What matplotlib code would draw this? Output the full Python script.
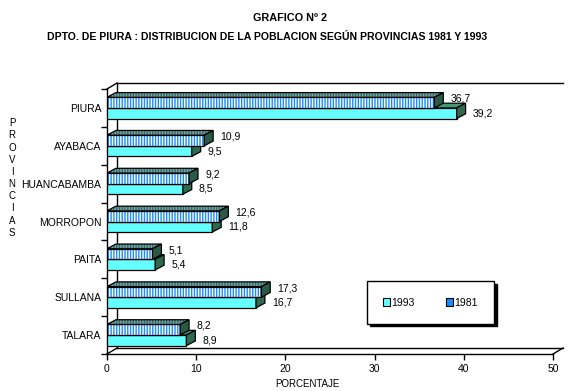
import numpy as np
import matplotlib
matplotlib.use('Agg')
import matplotlib.pyplot as plt
from matplotlib.patches import Polygon, Patch

provinces = ['PIURA', 'AYABACA', 'HUANCABAMBA', 'MORROPON', 'PAITA', 'SULLANA', 'TALARA']
p1981 = [36.7, 10.9, 9.2, 12.6, 5.1, 17.3, 8.2]
p1993 = [39.2, 9.5, 8.5, 11.8, 5.4, 16.7, 8.9]
xticks = [0, 10, 20, 30, 40, 50]

CYAN = '#66FFFF'
CYAN_SIDE = '#2E6B4E'
BLUE = '#1A8CFF'
BLUE_TOP = '#2F6B6B'
BLUE_SIDE = '#285A45'

plt.rcParams['font.family'] = ['Liberation Sans', 'DejaVu Sans']
plt.rcParams['hatch.linewidth'] = 1.0

fig = plt.figure(figsize=(5.86, 3.91), dpi=100)
W, H = 586, 391
ax = fig.add_axes([107 / W, 37 / H, 446 / W, 265 / H])
ax.set_xlim(0, 50)
ax.set_ylim(-0.5, 6.5)

# depth of the 3d effect, in data units
DXW, DYW = 1.12, 0.158
DX, DY = 1.0, 0.125
BH = 0.28

y = np.arange(len(provinces))[::-1]


def bar3d(y0, v, front, top, side, striped):
    if striped:
        ax.barh(y0, v, height=BH, align='edge', color=front, edgecolor='white',
                hatch='||||||', linewidth=0, zorder=3)
        ax.barh(y0, v, height=BH, align='edge', fill=False, edgecolor='black',
                linewidth=0.9, zorder=3)
    else:
        ax.barh(y0, v, height=BH, align='edge', color=front, edgecolor='black',
                linewidth=0.9, zorder=3)
    tp = [(0, y0 + BH), (v, y0 + BH), (v + DX, y0 + BH + DY), (DX, y0 + BH + DY)]
    sd = [(v, y0), (v + DX, y0 + DY), (v + DX, y0 + BH + DY), (v, y0 + BH)]
    if striped:
        ax.add_patch(Polygon(tp, closed=True, facecolor=top, edgecolor='#7FA3A3',
                             hatch='||||||', linewidth=0, zorder=3))
        ax.add_patch(Polygon(tp, closed=True, fill=False, edgecolor='black',
                             linewidth=0.9, zorder=3))
    else:
        ax.add_patch(Polygon(tp, closed=True, facecolor=top, edgecolor='black',
                             linewidth=0.9, zorder=3))
    ax.add_patch(Polygon(sd, closed=True, facecolor=side, edgecolor='black',
                         linewidth=0.9, zorder=3))


for yi, v81, v93 in zip(y, p1981, p1993):
    bar3d(yi - BH, v93, CYAN, '#3E9A7A', CYAN_SIDE, False)
    bar3d(yi, v81, BLUE, BLUE_TOP, BLUE_SIDE, True)
    ax.text(v81 + 1.8, yi + 0.24, f'{v81:.1f}'.replace('.', ','), fontsize=7.5,
            va='center', ha='left')
    ax.text(v93 + 1.8, yi - 0.14, f'{v93:.1f}'.replace('.', ','), fontsize=7.5,
            va='center', ha='left')

# back wall and floor outline
kw = dict(color='black', linewidth=1.0, clip_on=False, zorder=2)
ax.plot([DXW, DXW], [-0.5 + DYW, 6.5 + DYW], **kw)
ax.plot([DXW, 50 + DXW], [6.5 + DYW, 6.5 + DYW], **kw)
ax.plot([DXW, 50 + DXW], [-0.5 + DYW, -0.5 + DYW], **kw)
ax.plot([0, DXW], [6.5, 6.5 + DYW], **kw)
ax.plot([0, DXW], [-0.5, -0.5 + DYW], **kw)
ax.plot([50, 50 + DXW], [-0.5, -0.5 + DYW], **kw)

for s in ['top', 'right']:
    ax.spines[s].set_visible(False)
ax.spines['left'].set_linewidth(1.0)
ax.spines['bottom'].set_linewidth(1.0)

ax.set_xticks(xticks)
ax.set_xticklabels([str(t) for t in xticks], fontsize=7.5)
ax.tick_params(axis='x', length=4, width=1, pad=3)
ax.set_yticks(y)
ax.set_yticklabels(provinces, fontsize=7.5)
ax.tick_params(axis='y', which='major', length=0, pad=4)
ax.set_yticks(np.arange(-0.5, 7, 1), minor=True)
ax.tick_params(axis='y', which='minor', length=4, width=1)

fig.text(290 / W, 1 - 18 / H, 'GRAFICO Nº 2', ha='center', va='center',
         fontsize=7.8, fontweight='bold')
fig.text(267 / W, 1 - 37 / H,
         'DPTO. DE PIURA : DISTRIBUCION DE LA POBLACION SEGÚN PROVINCIAS 1981 Y 1993',
         ha='center', va='center', fontsize=7.6, fontweight='bold')
fig.text(307 / W, 1 - 384 / H, 'PORCENTAJE', ha='center', va='center', fontsize=7)
fig.text(12 / W, 1 - 178 / H, '\n'.join('PROVINCIAS'), ha='center', va='center',
         fontsize=7, linespacing=1.27)

h93 = Patch(facecolor=CYAN, edgecolor='black', linewidth=0.8)
h81 = (Patch(facecolor=BLUE, edgecolor='white', hatch='||', linewidth=0),
       Patch(fill=False, edgecolor='black', linewidth=0.8))
leg = fig.legend([h93, h81], ['1993', '1981'], ncol=2, loc='center',
                 bbox_to_anchor=(430.5 / W, 1 - 302.5 / H), fontsize=7.5,
                 frameon=True, fancybox=False, edgecolor='black',
                 shadow={'color': 'black', 'alpha': 1},
                 handlelength=0.7, handleheight=0.7, handletextpad=0.1,
                 columnspacing=3.0, borderpad=1.55, borderaxespad=0)
leg.get_frame().set_linewidth(1.0)

fig.savefig('out.png', dpi=100)
